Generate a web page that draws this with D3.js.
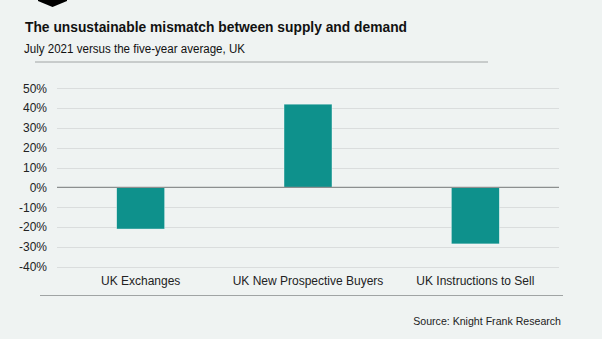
<!DOCTYPE html>
<html>
<head>
<meta charset="utf-8">
<script src="https://cdn.jsdelivr.net/npm/d3@7"></script>
<style>
  body { margin: 0; background: #eff3f2; }
  svg { display: block; font-family: "Liberation Sans", Arial, sans-serif; }
</style>
</head>
<body>
<div id="chart"></div>
<script>
// chart data
var categories = ["UK Exchanges", "UK New Prospective Buyers", "UK Instructions to Sell"];
var changes = [-21, 42, -28.5];
var tickValues = [50, 40, 30, 20, 10, 0, -10, -20, -30, -40];

var svgWidth = 602;
var svgHeight = 339;

var svg = d3.select("#chart")
  .append("svg")
  .attr("width", svgWidth)
  .attr("height", svgHeight);

svg.append("rect")
  .attr("width", svgWidth)
  .attr("height", svgHeight)
  .attr("fill", "#eff3f2");

// little black marker at the top
svg.append("path")
  .attr("d", "M38,0 L67,0 L67,1 L52.5,7 L38,1 Z")
  .attr("fill", "#000");

// titles
svg.append("text")
  .attr("x", 25)
  .attr("y", 31.7)
  .attr("font-size", "15.5px")
  .attr("font-weight", "bold")
  .attr("fill", "#111")
  .attr("textLength", 382)
  .attr("lengthAdjust", "spacingAndGlyphs")
  .text("The unsustainable mismatch between supply and demand");

svg.append("text")
  .attr("x", 24)
  .attr("y", 52.5)
  .attr("font-size", "12.3px")
  .attr("fill", "#111")
  .attr("textLength", 221)
  .attr("lengthAdjust", "spacingAndGlyphs")
  .text("July 2021 versus the five-year average, UK");

svg.append("line")
  .attr("x1", 35).attr("x2", 488)
  .attr("y1", 62).attr("y2", 62)
  .attr("stroke", "#a0a4a4")
  .attr("stroke-width", 1);

// plot area
var left = 57, right = 559;

var x = d3.scaleBand()
  .domain(categories)
  .range([left, right])
  .paddingInner(0.713)
  .paddingOuter(0.3565);

var y = d3.scaleLinear()
  .domain([-40, 50])
  .range([266.7, 88.3]);

// gridlines
svg.append("g")
  .selectAll("line")
  .data(tickValues.filter(d => d !== 0))
  .enter()
  .append("line")
  .attr("x1", left)
  .attr("x2", right)
  .attr("y1", d => Math.round(y(d)) + 0.5)
  .attr("y2", d => Math.round(y(d)) + 0.5)
  .attr("stroke", "#dadddd")
  .attr("stroke-width", 1);

// y axis labels
var yAxis = d3.axisLeft(y)
  .tickValues(tickValues)
  .tickSize(0)
  .tickPadding(0)
  .tickFormat(d => d + "%");

svg.append("g")
  .attr("transform", "translate(47,0)")
  .call(yAxis)
  .call(g => g.select(".domain").remove())
  .selectAll("text")
  .attr("font-size", "12px")
  .attr("font-family", "Liberation Sans, Arial, sans-serif")
  .attr("fill", "#222");

// bars
svg.append("g")
  .selectAll("rect")
  .data(changes)
  .enter()
  .append("rect")
  .attr("x", (d, i) => x(categories[i]))
  .attr("width", x.bandwidth())
  .attr("y", d => y(Math.max(0, d)))
  .attr("height", d => Math.abs(y(d) - y(0)))
  .attr("fill", "#0e918c")
  .attr("stroke", "#ffffff")
  .attr("stroke-opacity", 0.6)
  .attr("stroke-width", 0.7);

// zero line
svg.append("line")
  .attr("x1", left).attr("x2", right)
  .attr("y1", y(0)).attr("y2", y(0))
  .attr("stroke", "#8c8f8f")
  .attr("stroke-width", 1.2);

// category labels
var xAxis = d3.axisBottom(x).tickSize(0).tickPadding(0);

svg.append("g")
  .attr("transform", "translate(0,276)")
  .call(xAxis)
  .call(g => g.select(".domain").remove())
  .selectAll("text")
  .attr("font-size", "12px")
  .attr("font-family", "Liberation Sans, Arial, sans-serif")
  .attr("fill", "#222");

// footer
svg.append("line")
  .attr("x1", 40).attr("x2", 563)
  .attr("y1", 295.5).attr("y2", 295.5)
  .attr("stroke", "#a0a4a4")
  .attr("stroke-width", 1);

svg.append("text")
  .attr("x", 561)
  .attr("y", 325)
  .attr("text-anchor", "end")
  .attr("font-size", "10.6px")
  .attr("fill", "#222")
  .text("Source: Knight Frank Research");
</script>
</body>
</html>
